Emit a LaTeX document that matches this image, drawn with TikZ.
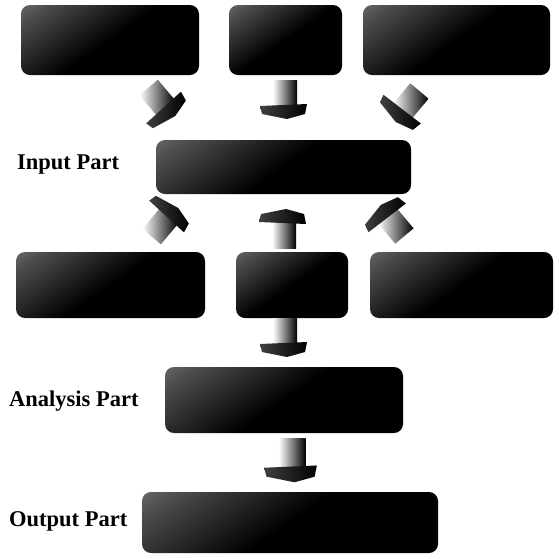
\documentclass[tikz,border=0pt]{standalone}
\usepackage{fontspec}
\setmainfont{Liberation Serif}
\usetikzlibrary{calc}
\pgfdeclareverticalshading{darkbox}{100bp}{color(0bp)=(black); color(50bp)=(black); color(78bp)=(black!70); color(100bp)=(black!38)}
\tikzset{
  box/.style={rounded corners=9pt, shading=darkbox, shading angle=35, inner sep=0pt},
  lbl/.style={anchor=west, inner sep=0pt, font=\bfseries\fontsize{22.5}{26}\selectfont},
  arrowthreed/.pic={
    \shade[left color=white, middle color=black!45, right color=black] (-10,-20) rectangle (14,7);
    \shade[left color=black!75, right color=black] (-23,6) -- (24,4) -- (22,14) -- (4,19) -- (-21,14) -- cycle;
  }
}
\begin{document}
\begin{tikzpicture}[x=1pt,y=-1pt]
\useasboundingbox (0,0) rectangle (559,558);
% top row
\node[box, minimum width=178pt, minimum height=70pt] (b1) at (110,40) {};
\node[box, minimum width=113pt, minimum height=70pt] (b2) at (285.5,40) {};
\node[box, minimum width=187pt, minimum height=70pt] (b3) at (456.5,40) {};
% input
\node[box, minimum width=255pt, minimum height=54pt] (inp) at (283.5,167) {};
\node[lbl] (linp) at (17,165) {Input Part};
% second row
\node[box, minimum width=189pt, minimum height=66pt] (b4) at (110.5,285) {};
\node[box, minimum width=112pt, minimum height=66pt] (b5) at (292,285) {};
\node[box, minimum width=183pt, minimum height=66pt] (b6) at (461.5,285) {};
% analysis
\node[box, minimum width=238pt, minimum height=66pt] (ana) at (284,400) {};
\node[lbl] (lana) at (9,401) {Analysis Part};
% output
\node[box, minimum width=296pt, minimum height=61pt] (out) at (290,522.5) {};
\node[lbl] (lout) at (9,521) {Output Part};
% 3D arrows
\pic[rotate=40] at (160,104) {arrowthreed};
\pic at (283,100) {arrowthreed};
\pic[rotate=-40] at (405,105) {arrowthreed};
\pic[rotate=-40, yscale=-1] at (163,220) {arrowthreed};
\pic[yscale=-1] at (282,228) {arrowthreed};
\pic[rotate=40, yscale=-1] at (390,222) {arrowthreed};
\pic at (283,338) {arrowthreed};
\pic[scale=1.12] at (290,461) {arrowthreed};
\end{tikzpicture}
\end{document}
